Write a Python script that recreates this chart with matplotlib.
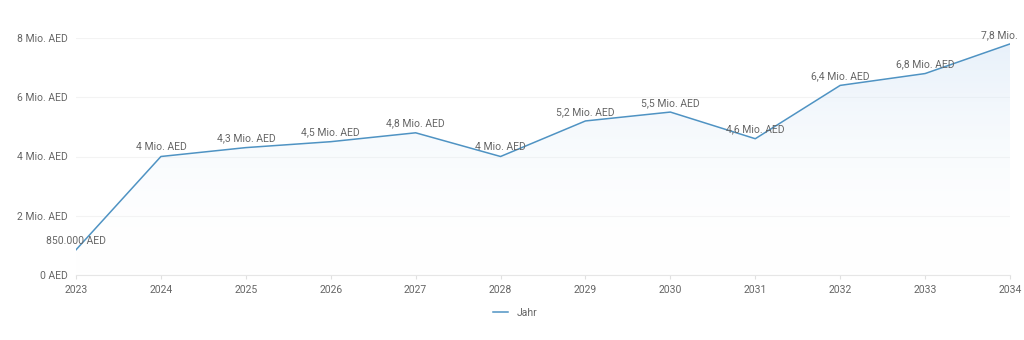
import matplotlib
matplotlib.use('Agg')
import matplotlib.pyplot as plt
import numpy as np
from matplotlib.patches import Polygon
from matplotlib.transforms import Bbox

years = [2023, 2024, 2025, 2026, 2027, 2028, 2029, 2030, 2031, 2032, 2033, 2034]
values = [0.85, 4.0, 4.3, 4.5, 4.8, 4.0, 5.2, 5.5, 4.6, 6.4, 6.8, 7.8]  # Mio. AED
point_labels = ['850.000 AED', '4 Mio. AED', '4,3 Mio. AED', '4,5 Mio. AED',
                '4,8 Mio. AED', '4 Mio. AED', '5,2 Mio. AED', '5,5 Mio. AED',
                '4,6 Mio. AED', '6,4 Mio. AED', '6,8 Mio. AED', '7,8 Mio. AED']
y_ticks = [0, 2, 4, 6, 8]
y_tick_labels = ['0 AED', '2 Mio. AED', '4 Mio. AED', '6 Mio. AED', '8 Mio. AED']
series_name = 'Jahr'

line_color = '#4f93c3'
text_color = '#666666'
plt.rcParams['font.family'] = ['Roboto', 'DejaVu Sans']

fig = plt.figure(figsize=(10.24, 3.4), dpi=100)
ax = fig.add_axes([76 / 1024, 65 / 340, (1010 - 76) / 1024, (275 - 38) / 340])

ax.set_xlim(years[0], years[-1])
ax.set_ylim(0, 8)

# gradient fill under the line
grad = np.linspace(0, 1, 256).reshape(-1, 1)
cmap = matplotlib.colors.LinearSegmentedColormap.from_list(
    'fade', [(1, 1, 1, 0), (0.82, 0.89, 0.96, 0.5)])
img = ax.imshow(grad, extent=[years[0], years[-1], 0, max(values)], origin='lower',
                aspect='auto', cmap=cmap, zorder=1)
verts = [(years[0], 0)] + list(zip(years, values)) + [(years[-1], 0)]
poly = Polygon(verts, closed=True, facecolor='none', edgecolor='none')
ax.add_patch(poly)
img.set_clip_path(poly)

ax.plot(years, values, color=line_color, lw=1.1, zorder=3, label=series_name)

# value labels; the chart area ends a few pixels before the figure edge
label_clip = Bbox.from_extents(0, 0, 1017, 340)
for x, y, lab in zip(years, values, point_labels):
    t = ax.annotate(lab, (x, y), xytext=(0, 3), textcoords='offset points',
                    ha='center', va='bottom', fontsize=7.5, color=text_color,
                    annotation_clip=False, zorder=4)
    t.set_clip_box(label_clip)
    t.set_clip_on(True)

ax.set_xticks(years)
ax.set_xticklabels([str(y) for y in years])
ax.set_yticks(y_ticks)
ax.set_yticklabels(y_tick_labels)
ax.tick_params(axis='x', length=3, color='#e0e0e0', labelsize=7.5,
               labelcolor=text_color, pad=4)
ax.tick_params(axis='y', length=0, labelsize=7.5, labelcolor=text_color, pad=6)
ax.grid(axis='y', color='#f3f3f3', lw=0.8)
ax.set_axisbelow(True)
for side in ['top', 'right', 'left']:
    ax.spines[side].set_visible(False)
ax.spines['bottom'].set_color('#e6e6e6')

ax.legend(loc='upper center', bbox_to_anchor=(0.47, -0.1), frameon=False,
          fontsize=7.5, labelcolor=text_color, handlelength=1.5)

fig.savefig('out.png', dpi=100)
